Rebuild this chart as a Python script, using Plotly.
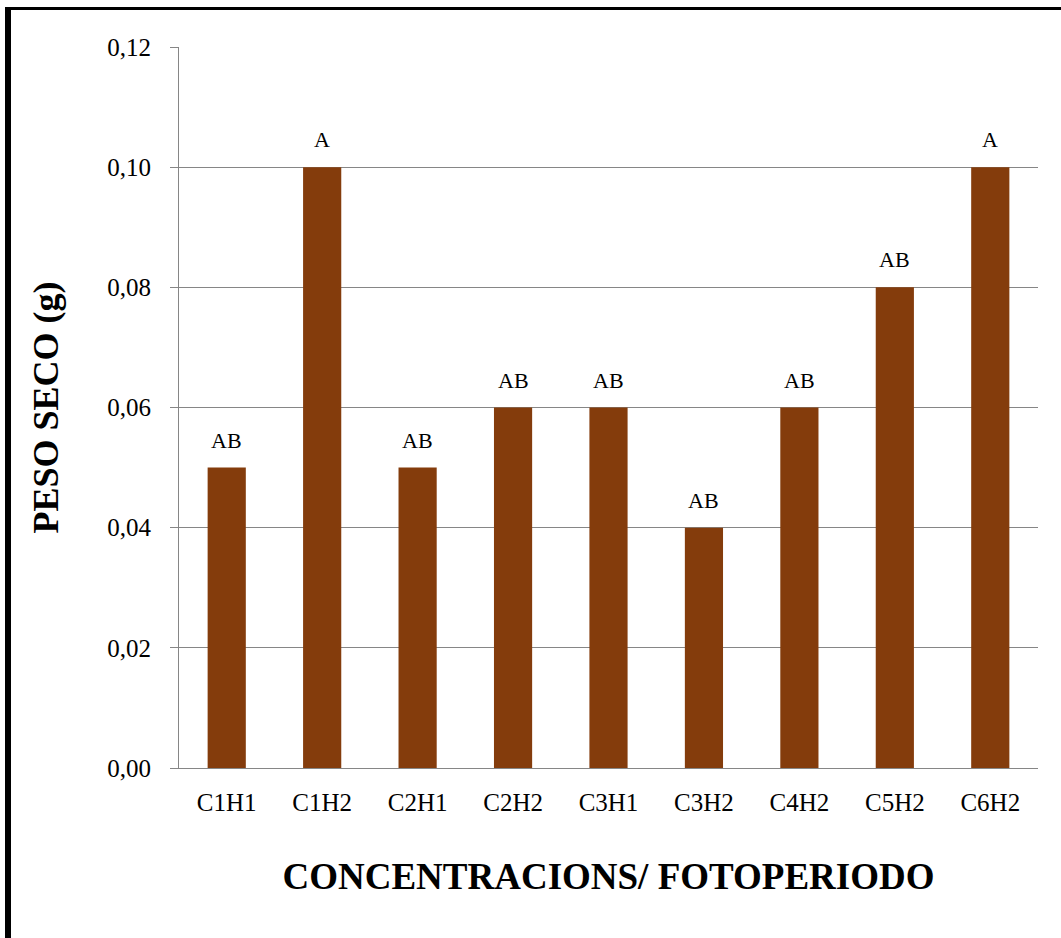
import plotly.graph_objects as go

categories = ["C1H1", "C1H2", "C2H1", "C2H2", "C3H1", "C3H2", "C4H2", "C5H2", "C6H2"]
peso_seco = [0.05, 0.10, 0.05, 0.06, 0.06, 0.04, 0.06, 0.08, 0.10]
letters = ["AB", "A", "AB", "AB", "AB", "AB", "AB", "AB", "A"]
y_ticks = [0.00, 0.02, 0.04, 0.06, 0.08, 0.10, 0.12]

W, H = 1061, 938
L, R, T, B = 179, 23, 47, 170
pw, ph = W - L - R, H - T - B

def px_x(px):
    return (px - L) / pw

def px_y(py):
    return (H - B - py) / ph

serif = "Liberation Serif"
bar_color = "#843C0C"
grid_color = "#868686"

fig = go.Figure(
    go.Bar(
        x=categories,
        y=peso_seco,
        marker=dict(color=bar_color, line=dict(width=0)),
        width=0.4,
        hoverinfo="x+y",
    )
)

# significance letters above each bar
for cat, val, lab in zip(categories, peso_seco, letters):
    fig.add_annotation(
        x=cat, y=val, text=lab, showarrow=False,
        yanchor="bottom", yshift=13,
        font=dict(family=serif, size=22, color="#000000"),
    )

# frame lines on the left and top edges of the page
fig.add_shape(type="rect", xref="paper", yref="paper",
              x0=px_x(5), x1=px_x(11), y0=px_y(H + 5), y1=px_y(7),
              fillcolor="#000000", line=dict(width=0), layer="above")
fig.add_shape(type="rect", xref="paper", yref="paper",
              x0=px_x(5), x1=px_x(W + 5), y0=px_y(10), y1=px_y(7),
              fillcolor="#000000", line=dict(width=0), layer="above")

fig.update_layout(
    width=W, height=H,
    margin=dict(l=L, r=R, t=T, b=B),
    paper_bgcolor="#FFFFFF",
    plot_bgcolor="#FFFFFF",
    separators=",.",
    showlegend=False,
    font=dict(family=serif, color="#000000"),
    bargap=0.6,
)

fig.update_yaxes(
    range=[0, 0.12],
    tickvals=y_ticks,
    tickformat=".2f",
    automargin=False,
    showgrid=True, gridcolor=grid_color, gridwidth=1,
    showline=True, linecolor=grid_color, linewidth=1,
    ticks="outside", ticklen=8, tickcolor=grid_color,
    ticklabelstandoff=14,
    tickfont=dict(family=serif, size=25, color="#000000"),
    zeroline=False,
    title=dict(text="<b>PESO SECO (g)</b>", standoff=37,
               font=dict(family=serif, size=36, color="#000000")),
)

fig.update_xaxes(
    automargin=False,
    showline=True, linecolor=grid_color, linewidth=1,
    ticks="", showgrid=False,
    ticklabelstandoff=12,
    tickfont=dict(family=serif, size=25, color="#000000"),
    title=dict(text="<b>CONCENTRACIONS/ FOTOPERIODO</b>", standoff=48,
               font=dict(family=serif, size=37, color="#000000")),
)

fig.write_html("out.html")
